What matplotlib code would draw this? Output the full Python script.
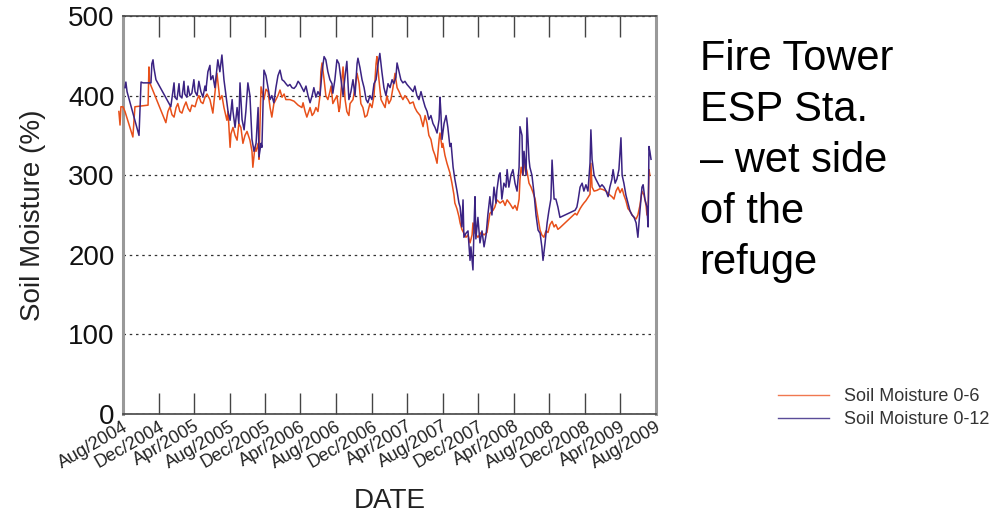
import matplotlib
matplotlib.use("Agg")
import matplotlib.pyplot as plt
import matplotlib.dates as mdates
from matplotlib.lines import Line2D
import pandas as pd

plt.rcParams['font.family'] = ['Liberation Sans', 'DejaVu Sans']

# daily soil moisture readings, day offsets counted from the start date
start = pd.Timestamp('2004-08-01')

days_06 = [-14, -10, -7, 0, 7, 34, 41, 86, 89, 92,
           147, 154, 161, 168, 175, 182, 188, 195, 202, 209,
           216, 223, 230, 236, 247, 254, 260, 267, 274, 281,
           288, 298, 308, 315, 322, 332, 339, 346, 356, 360,
           367, 370, 377, 384, 391, 397, 404, 411, 418, 425,
           435, 442, 445, 452, 456, 463, 466, 473, 480, 483,
           490, 497, 504, 510, 517, 524, 531, 538, 545, 552,
           558, 572, 586, 600, 613, 617, 624, 630, 641, 648,
           654, 661, 668, 675, 678, 682, 689, 695, 702, 709,
           713, 719, 726, 733, 740, 743, 750, 754, 761, 767,
           774, 778, 788, 795, 802, 809, 815, 822, 829, 836,
           846, 853, 860, 867, 870, 877, 884, 891, 898, 904,
           911, 918, 925, 932, 939, 946, 952, 959, 966, 976,
           983, 994, 1000, 1007, 1018, 1028, 1035, 1042, 1048, 1055,
           1062, 1069, 1076, 1083, 1086, 1093, 1096, 1103, 1110, 1120,
           1127, 1134, 1137, 1144, 1151, 1155, 1161, 1168, 1175, 1182,
           1189, 1196, 1199, 1206, 1216, 1227, 1237, 1247, 1257, 1268,
           1274, 1281, 1292, 1302, 1309, 1316, 1326, 1336, 1343, 1350,
           1357, 1360, 1364, 1370, 1377, 1384, 1391, 1398, 1405, 1412,
           1418, 1425, 1429, 1435, 1442, 1449, 1456, 1463, 1470, 1477,
           1483, 1490, 1497, 1549, 1555, 1566, 1573, 1579, 1586, 1593,
           1600, 1603, 1607, 1614, 1624, 1634, 1644, 1655, 1665, 1675,
           1682, 1689, 1696, 1703, 1710, 1716, 1723, 1730, 1737, 1744,
           1751, 1758, 1764, 1771, 1778, 1785, 1792, 1795, 1799, 1802,
           1805]
moist_06 = [380, 363, 386, 386, 380, 348, 386, 388, 436, 416,
            366, 380, 386, 376, 373, 385, 390, 380, 378, 386,
            392, 384, 380, 388, 386, 395, 400, 392, 390, 398,
            402, 395, 378, 403, 428, 395, 400, 385, 369, 380,
            335, 352, 360, 350, 344, 365, 360, 340, 350, 355,
            344, 330, 310, 335, 330, 340, 320, 411, 400, 395,
            408, 405, 385, 373, 390, 395, 400, 407, 398, 402,
            395, 395, 393, 388, 385, 391, 380, 373, 385, 375,
            378, 385, 380, 400, 430, 441, 420, 400, 395, 405,
            412, 390, 395, 400, 380, 385, 420, 436, 395, 380,
            375, 390, 395, 410, 428, 415, 390, 385, 373, 375,
            390, 385, 400, 440, 449, 420, 395, 390, 385, 400,
            390, 395, 410, 428, 410, 405, 400, 395, 400, 395,
            390, 392, 385, 380, 375, 361, 375, 365, 350, 345,
            332, 325, 315, 345, 353, 335, 340, 325, 315, 303,
            290, 275, 265, 258, 248, 240, 232, 227, 222, 225,
            215, 225, 240, 227, 222, 228, 225, 228, 252, 256,
            260, 269, 265, 268, 262, 269, 264, 258, 262, 256,
            270, 294, 310, 300, 315, 305, 290, 285, 278, 270,
            255, 240, 231, 225, 222, 230, 228, 238, 242, 235,
            238, 232, 234, 252, 250, 258, 262, 265, 268, 272,
            276, 315, 285, 280, 281, 283, 282, 280, 276, 273,
            270, 280, 285, 278, 283, 275, 268, 258, 255, 250,
            247, 245, 250, 262, 280, 275, 262, 250, 255, 307,
            300]

days_012 = [7, 10, 14, 17, 55, 62, 69, 96, 99, 103,
            106, 113, 164, 171, 175, 178, 185, 192, 195, 202,
            209, 212, 219, 223, 229, 236, 243, 247, 254, 260,
            267, 274, 281, 284, 291, 298, 301, 308, 315, 322,
            325, 332, 339, 346, 353, 360, 367, 374, 377, 384,
            391, 397, 401, 408, 415, 421, 428, 435, 442, 449,
            456, 463, 466, 473, 476, 483, 490, 497, 504, 510,
            517, 524, 531, 538, 545, 552, 558, 565, 572, 579,
            586, 593, 600, 606, 613, 620, 627, 634, 641, 648,
            654, 661, 668, 675, 682, 689, 695, 702, 709, 716,
            719, 726, 733, 740, 747, 754, 761, 767, 774, 781,
            788, 795, 802, 805, 812, 819, 826, 833, 839, 846,
            853, 860, 867, 874, 880, 887, 894, 901, 908, 915,
            922, 928, 935, 939, 946, 952, 959, 966, 973, 980,
            987, 994, 1000, 1007, 1014, 1021, 1028, 1035, 1042, 1048,
            1055, 1062, 1069, 1076, 1083, 1086, 1089, 1093, 1100, 1107,
            1113, 1120, 1124, 1131, 1137, 1144, 1151, 1155, 1161, 1165,
            1168, 1175, 1182, 1189, 1192, 1199, 1203, 1206, 1209, 1216,
            1223, 1230, 1237, 1244, 1250, 1257, 1264, 1271, 1278, 1281,
            1288, 1292, 1298, 1305, 1312, 1316, 1322, 1329, 1336, 1343,
            1350, 1357, 1360, 1367, 1370, 1374, 1381, 1384, 1391, 1394,
            1401, 1408, 1415, 1422, 1429, 1435, 1439, 1446, 1453, 1459,
            1466, 1470, 1477, 1483, 1490, 1497, 1549, 1555, 1559, 1566,
            1573, 1579, 1586, 1593, 1600, 1603, 1607, 1614, 1620, 1627,
            1634, 1641, 1648, 1655, 1662, 1668, 1675, 1679, 1686, 1692,
            1699, 1706, 1710, 1716, 1723, 1730, 1737, 1744, 1751, 1758,
            1764, 1771, 1778, 1782, 1788, 1795, 1799, 1802, 1805, 1809]
moist_012 = [410, 417, 405, 401, 350, 417, 416, 416, 440, 445,
             435, 420, 386, 405, 416, 398, 395, 415, 400, 397,
             418, 402, 398, 412, 400, 403, 420, 405, 400, 418,
             405, 398, 412, 406, 430, 438, 420, 425, 410, 435,
             445, 430, 451, 420, 400, 380, 369, 395, 380, 360,
             385, 365, 416, 370, 357, 380, 416, 400, 345, 330,
             340, 385, 323, 340, 335, 432, 425, 410, 395, 400,
             391, 410, 425, 432, 420, 418, 415, 412, 414, 410,
             409, 412, 418, 415, 410, 405, 412, 400, 391, 400,
             410, 398, 405, 400, 430, 449, 445, 430, 420, 415,
             403, 420, 445, 440, 420, 400, 425, 443, 395, 405,
             420, 400, 440, 447, 435, 420, 410, 395, 391, 400,
             395, 415, 420, 440, 453, 430, 410, 400, 415, 410,
             420, 415, 423, 441, 430, 420, 416, 418, 414, 411,
             408, 405, 412, 400, 395, 405, 395, 386, 380, 370,
             375, 365, 360, 353, 370, 398, 380, 345, 365, 375,
             360, 336, 340, 310, 295, 281, 265, 260, 235, 269,
             222, 227, 230, 193, 210, 181, 240, 273, 220, 247,
             215, 230, 210, 225, 250, 273, 250, 285, 265, 281,
             300, 303, 270, 290, 285, 307, 285, 300, 307, 290,
             280, 310, 361, 350, 300, 330, 300, 372, 320, 310,
             300, 278, 250, 231, 227, 210, 193, 215, 240, 255,
             270, 319, 270, 270, 260, 247, 256, 260, 268, 285,
             290, 280, 288, 280, 315, 357, 320, 300, 295, 290,
             285, 288, 285, 280, 273, 285, 295, 307, 290, 295,
             307, 347, 300, 290, 275, 265, 255, 250, 247, 240,
             222, 255, 285, 288, 270, 260, 235, 336, 330, 320]

y_ticks = [0, 100, 200, 300, 400, 500]
title_lines = ['Fire Tower', 'ESP Sta.', '\u2013 wet side', 'of the', 'refuge']
series_names = ['Soil Moisture 0-6', 'Soil Moisture 0-12']

assert len(days_06) == len(moist_06)
assert len(days_012) == len(moist_012)

dates_06 = start + pd.to_timedelta(days_06, unit='D')
dates_012 = start + pd.to_timedelta(days_012, unit='D')

orange = '#E8501A'
purple = '#3B2383'

fig = plt.figure(figsize=(9.98, 5.18), dpi=100)
ax = fig.add_axes([0.1232, 0.2008, 0.5341, 0.7683])

ax.plot(dates_06, moist_06, color=orange, lw=1.1, clip_on=False, zorder=3)
ax.plot(dates_012, moist_012, color=purple, lw=1.1, clip_on=False, zorder=4)

ax.set_xlim(start, pd.Timestamp('2009-08-01'))
ax.set_ylim(0, 500)
ax.set_yticks(y_ticks)
ax.yaxis.grid(True, linestyle=(0, (2, 3)), color='#333333', lw=0.9)
ax.set_axisbelow(True)

ax.xaxis.set_major_locator(mdates.MonthLocator(bymonth=[4, 8, 12]))
ax.xaxis.set_major_formatter(mdates.DateFormatter('%b/%Y'))
ax.tick_params(axis='x', direction='in', length=15, width=1, color='#444444',
               top=True, labelsize=13, pad=3, labelcolor='#222222')
ax.tick_params(axis='y', length=0, labelsize=20, pad=6, labelcolor='#111111')
for lbl in ax.get_xticklabels():
    lbl.set_rotation(30)
    lbl.set_ha('right')
    lbl.set_rotation_mode('anchor')

for side in ['left', 'right']:
    ax.spines[side].set_color('#999999')
    ax.spines[side].set_linewidth(2.2)
for side in ['top', 'bottom']:
    ax.spines[side].set_color('#444444')
    ax.spines[side].set_linewidth(1.2)

ax.set_ylabel('Soil Moisture (%)', fontsize=20, color='#222222', labelpad=16)
ax.set_xlabel('DATE', fontsize=20, color='#222222', labelpad=12)

fig.text(0.701, 0.925, '\n'.join(title_lines), fontsize=30, va='top', ha='left',
         color='black', linespacing=1.36)

handles = [Line2D([], [], color='#F07850', lw=1.0),
           Line2D([], [], color='#5A4C98', lw=1.0)]
fig.legend(handles, series_names, loc='center left',
           bbox_to_anchor=(0.771, 0.212), frameon=False, fontsize=13,
           handlelength=2.8, handletextpad=0.85, labelspacing=0.3,
           borderpad=0, labelcolor='#333333')

fig.savefig('out.png', dpi=100)
